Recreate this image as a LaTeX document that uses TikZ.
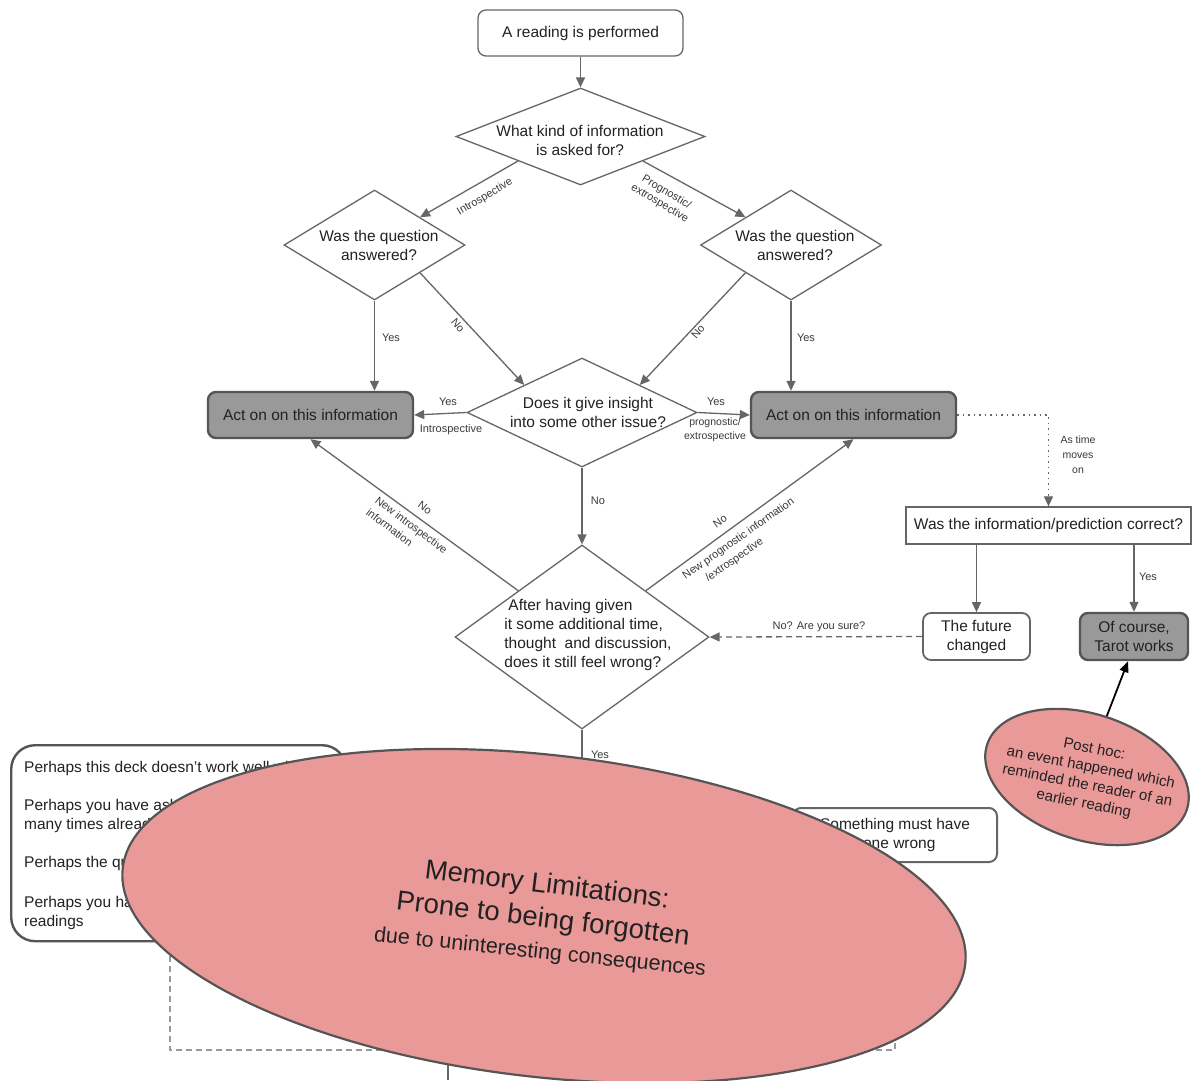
\documentclass[tikz,border=0pt]{standalone}
\usepackage{fontspec}
\setmainfont{Liberation Sans}
\usetikzlibrary{shapes.geometric,arrows.meta,calc}
\definecolor{linegray}{HTML}{666666}
\definecolor{edgegray}{HTML}{555555}
\definecolor{boxgray}{HTML}{999999}
\definecolor{memred}{HTML}{EA9999}
\definecolor{inkdark}{HTML}{222222}
\definecolor{lblgray}{HTML}{3A3A3A}
\tikzset{
  maintext/.style={font=\fontsize{15.5}{19}\selectfont, text=inkdark},
  whitebox/.style={maintext, draw=linegray, line width=1.3pt, rounded corners=8pt, fill=white, align=center, inner sep=0pt},
  graybox/.style={maintext, draw=edgegray, line width=2.4pt, rounded corners=8pt, fill=boxgray, align=center, inner sep=0pt},
  decision/.style={diamond, draw=linegray, line width=1.3pt, fill=white, inner sep=0pt},
  dtext/.style={maintext, align=center, inner sep=0pt},
  conn/.style={draw=linegray, line width=1.3pt, -{Triangle[length=10pt,width=9pt]}},
  dashconn/.style={conn, dash pattern=on 6pt off 4pt},
  dotconn/.style={conn, line width=1.2pt, dash pattern=on 1.5pt off 4pt},
  plainline/.style={draw=linegray, line width=1.1pt},
  lbl/.style={font=\fontsize{11}{14}\selectfont, text=lblgray, inner sep=0pt, align=center},
  cloud/.style={ellipse, draw=edgegray, line width=2.2pt, fill=memred, inner sep=0pt},
}
\begin{document}
\begin{tikzpicture}[x=1pt, y=-1pt]
\useasboundingbox (0,0) rectangle (1192,1080);
\fill[white] (0,0) rectangle (1192,1080);
\clip (0,0) rectangle (1192,1080);

% --- top of the flow
\node[whitebox, minimum width=205, minimum height=46] (start) at (580.5,33) {A reading is performed};
\node[decision, minimum width=249, minimum height=97] (kind) at (580.5,136.5) {};
\node[dtext] (kindt) at (580,140) {What kind of information\\is asked for?};

\node[decision, minimum width=181, minimum height=110] (ansL) at (374.5,245) {};
\node[dtext] (ansLt) at (379,245) {Was the question\\answered?};
\node[decision, minimum width=181, minimum height=110] (ansR) at (791,245) {};
\node[dtext] (ansRt) at (795,245) {Was the question\\answered?};

\node[decision, minimum width=230, minimum height=109] (insight) at (582,412.5) {};
\node[dtext] (insightt) at (588,412) {Does it give insight\\into some other issue?};

\node[graybox, minimum width=205, minimum height=46] (actL) at (310.5,415) {Act on on this information};
\node[graybox, minimum width=205, minimum height=46] (actR) at (853.5,415) {Act on on this information};

\node[decision, minimum width=254, minimum height=184] (still) at (582,637) {};
\node[dtext, align=left] (stillt) at (588,635) {\hspace*{4pt}After having given\\it some additional time,\\thought\ \ and discussion,\\does it still feel wrong?};

% --- checking the outcome
\node[whitebox, sharp corners, minimum width=285, minimum height=37] (check) at (1048.5,525.5) {Was the information/prediction correct?};
\node[whitebox, line width=1.8pt, minimum width=107, minimum height=47] (future) at (976.5,636.5) {The future\\changed};
\node[graybox, minimum width=108, minimum height=47] (tarot) at (1134,636.5) {Of course,\\Tarot works};

% --- main connectors
\draw[conn] (start.south) -- (kind.north);
\draw[conn] (kind.south west) -- (ansL.north east);
\draw[conn] (kind.south east) -- (ansR.north west);
\draw[conn] (ansL.south) -- (ansL.south |- actL.north);
\draw[conn] (ansR.south) -- (ansR.south |- actR.north);
\draw[conn] (ansL.south east) -- (insight.north west);
\draw[conn] (ansR.south west) -- (insight.north east);
\draw[conn] (insight.west) -- (actL.east);
\draw[conn] (insight.east) -- (actR.west);
\draw[conn] (insight.south) -- (still.north);
\draw[conn] (still.north west) -- (actL.south);
\draw[conn] (still.north east) -- (actR.south);
\draw[dotconn] (actR.east) -| (check.north);
\draw[conn] (check.south -| future.north) -- (future.north);
\draw[conn] (check.south -| tarot.north) -- (tarot.north);
\draw[dashconn] (future.west) -- (still.east);

% --- connector labels
\node[lbl, rotate=31] (lIntro) at (485,197) {Introspective};
\node[lbl, rotate=-31, font=\fontsize{11}{13}\selectfont] (lProg) at (663,198) {Prognostic/\\extrospective};
\node[lbl] (lYesL) at (391,338) {Yes};
\node[lbl] (lYesR) at (806,338) {Yes};
\node[lbl, rotate=-50] (lNoL) at (458,325) {No};
\node[lbl, rotate=50] (lNoR) at (698,332) {No};
\node[lbl] (lYesIL) at (448,402) {Yes};
\node[lbl] (lIntroB) at (451,430) {Introspective};
\node[lbl] (lYesIR) at (716,402) {Yes};
\node[lbl, font=\fontsize{10.5}{14}\selectfont] (lProgB) at (715,430) {prognostic/\\extrospective};
\node[lbl] (lNoMid) at (598,501) {No};
\node[lbl, rotate=-37] (lNoBL) at (425,508) {No};
\node[lbl, rotate=-37, align=left, font=\fontsize{11}{15}\selectfont] (lNewIntro) at (407,531) {New introspective\\information};
\node[lbl, rotate=35] (lNoBR) at (720,521) {No};
\node[lbl, rotate=35, align=left, font=\fontsize{11}{15}\selectfont] (lNewProg) at (743,545) {New prognostic information\\\hspace*{17pt}/extrospective};
\node[lbl, font=\fontsize{10.5}{15}\selectfont] (lTime) at (1078,455) {As time\\moves\\on};
\node[lbl] (lSure) at (819,627) {No? Are you sure?};
\node[lbl] (lYesT) at (1148,577) {Yes};
\node[lbl] (lYesD) at (600,755) {Yes};

% --- lower part, partly hidden by the large note
\coordinate (yesEnd) at (582,820);
\draw[conn] (still.south) -- (yesEnd);
\coordinate (tailTop) at (448,1000);
\coordinate (tailEnd) at (448,1080);
\draw[plainline] (tailTop) -- (tailEnd);

\node[draw=edgegray, line width=2.4pt, rounded corners=24pt, fill=white, minimum width=335, minimum height=196, anchor=north west, inner sep=0pt] (perhaps) at (10,744) {};
\node[maintext, align=left, anchor=north west, inner sep=0pt] (perhapst) at (24,761) {Perhaps this deck doesn’t work well with you\\[19pt]Perhaps you have asked this question too\\many times already\\[19pt]Perhaps the question was unclear\\[21pt]Perhaps you have done too many\\readings};

\node[whitebox, line width=2pt, minimum width=204, minimum height=54] (wrong) at (895,835) {Something must have\\gone wrong};

\coordinate (loopA) at (895,1050);
\coordinate (loopB) at (170,1050);
\draw[draw=gray!80, line width=1.3pt, dash pattern=on 6pt off 4pt] (wrong.south) -- (loopA) -- (loopB) -- (loopB |- perhaps.south);

% --- notes
\node[cloud, minimum width=848, minimum height=322, rotate=-6.5] (memory) at (544,916) {};
\node[font=\fontsize{27.5}{33}\selectfont, text=inkdark, rotate=-7, inner sep=0pt] (memA) at (547,886) {Memory Limitations:};
\node[font=\fontsize{27.5}{33}\selectfont, text=inkdark, rotate=-7, inner sep=0pt] (memB) at (543,920) {Prone to being forgotten};
\node[font=\fontsize{21.5}{26}\selectfont, text=inkdark, rotate=-6, inner sep=0pt] (memC) at (540,953) {due to uninteresting consequences};

\node[cloud, minimum width=210, minimum height=126, rotate=-18] (posthoc) at (1087,777) {};
\node[maintext, align=center, rotate=-11, inner sep=0pt, font=\fontsize{15}{18.5}\selectfont] (posthoct) at (1089,777) {Post hoc:\\an event happened which\\reminded the reader of an\\earlier reading};
\draw[black, line width=1.8pt, -{Triangle[length=11pt,width=9pt]}] (posthoc.north) -- ($(tarot.south)+(-6,0)$);
\end{tikzpicture}
\end{document}
